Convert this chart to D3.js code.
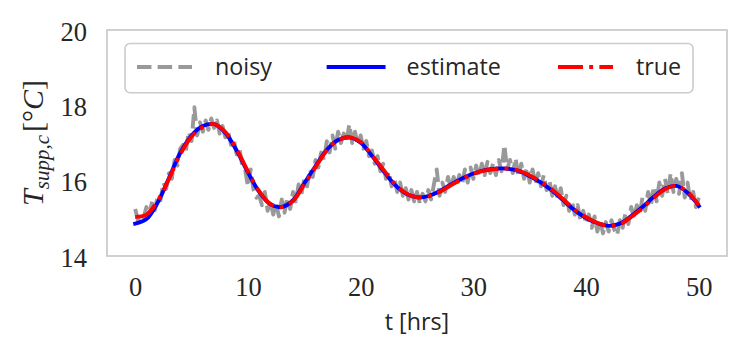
<!DOCTYPE html>
<html><head><meta charset="utf-8">
<script src="https://cdn.jsdelivr.net/npm/d3@7"></script>
<style>body{margin:0;background:#fff}</style></head>
<body>
<svg id="c" width="747" height="359"></svg>
<script>
// ---- data ----
const hours = d3.range(0, 51);            // 0..50 h
const trueVals = [15.04,15.10,15.47,16.05,16.70,17.17,17.42,17.50,17.29,16.83,16.25,
  15.72,15.38,15.30,15.46,15.90,16.36,16.80,17.07,17.15,17.03,
  16.68,16.30,15.92,15.67,15.56,15.58,15.70,15.88,16.04,16.18,
  16.27,16.31,16.32,16.27,16.14,15.97,15.76,15.50,15.23,15.03,
  14.88,14.80,14.84,15.04,15.27,15.54,15.77,15.86,15.70,15.35];
const estimateVals = [14.86,14.98,15.42,16.07,16.74,17.20,17.45,17.50,17.27,16.80,16.22,
  15.70,15.37,15.30,15.48,15.93,16.39,16.82,17.08,17.15,17.01,
  16.66,16.27,15.90,15.66,15.56,15.59,15.72,15.90,16.06,16.19,
  16.28,16.32,16.32,16.26,16.12,15.95,15.73,15.47,15.21,15.01,
  14.87,14.80,14.86,15.06,15.30,15.57,15.79,15.86,15.68,15.33];
const noisyTimes = d3.range(0, 50.001, 0.25);
const noisyVals = [
  15.25,14.95,15.10,15.02, 15.30,15.08,15.45,15.22, 15.60,15.48,15.95,15.78,
  16.20,16.05,16.55,16.40, 16.85,16.95,16.80,17.30, 17.05,17.95,17.20,17.55,
  17.30,17.60,17.35,17.65, 17.40,17.60,17.25,17.45, 17.15,17.30,16.95,17.10,
  16.70,16.85,16.40,16.30, 15.85,16.30,15.75,15.55, 15.60,15.35,15.70,15.20,
  15.45,15.10,15.40,15.05, 15.50,15.15,15.55,15.25, 15.70,15.45,15.90,15.65,
  16.05,15.85,16.30,16.10, 16.55,16.35,16.75,16.55, 17.05,16.75,17.20,16.85,
  17.30,17.00,17.25,17.05, 17.50,17.00,17.30,16.95, 17.20,16.85,17.05,16.65,
  16.80,16.45,16.65,16.25, 16.45,16.05,16.25,15.85, 16.05,15.70,15.95,15.60,
  15.80,15.50,15.75,15.45, 15.70,15.40,15.65,15.45, 15.75,15.50,15.90,16.30,
  15.60,15.95,15.70,16.10, 15.80,16.10,15.85,16.15, 15.90,16.30,15.95,16.35,
  16.05,16.40,16.10,16.45, 16.15,16.50,16.20,16.45, 16.15,16.55,16.25,16.95,
  16.30,16.55,16.20,16.60, 16.10,16.45,16.05,16.35, 15.95,16.30,15.90,16.20,
  15.85,16.15,15.75,16.00, 15.60,15.85,15.50,15.80, 15.35,15.60,15.20,15.45,
  15.10,15.35,14.95,15.20, 14.85,15.10,14.75,15.05, 14.65,14.95,14.60,14.90,
  14.65,14.95,14.70,14.55, 14.95,14.75,15.15,14.85, 15.30,15.00,15.35,15.10,
  15.55,15.20,15.70,15.35, 15.85,15.45,15.95,15.60, 16.05,15.65,16.20,15.70,
  16.05,15.65,16.20,15.55, 15.95,15.45,15.70,15.30, 15.55];
const xTicks = [0,10,20,30,40,50];
const yTicks = [14,16,18,20];
const legendLabels = ["noisy","estimate","true"];

// ---- layout ----
const L = 107, R = 727, T = 30, B = 256;
const LW = 3.9;
const svg = d3.select("#c");
const x = d3.scaleLinear().domain([-2.5, 52.5]).range([L, R]);
const y = d3.scaleLinear().domain([14, 20]).range([B, T]);
const textCol = "#262626";
const serif = "'Liberation Serif', 'Times New Roman', serif";
const sans = "'Open Sans', 'DejaVu Sans', sans-serif";

const styles = {
  noisy:    {color:"#999999", dash:`${3.7*LW},${1.6*LW}`, cap:"butt"},
  estimate: {color:"#0000ff", dash:null, cap:"square"},
  "true":   {color:"#ff0000", dash:`${6.4*LW},${1.6*LW},${1*LW},${1.6*LW}`, cap:"butt"}
};

// clip
svg.append("defs").append("clipPath").attr("id","clip")
  .append("rect").attr("x",L).attr("y",T).attr("width",R-L).attr("height",B-T);

// axes
const xAxis = svg.append("g").attr("transform",`translate(0,${B})`)
  .call(d3.axisBottom(x).tickValues(xTicks).tickSize(0).tickPadding(21).tickFormat(d3.format("d")));
xAxis.select(".domain").remove();
xAxis.selectAll("text").attr("font-family",serif).attr("font-size",26.5).attr("fill",textCol);

const yAxis = svg.append("g").attr("transform",`translate(${L},0)`)
  .call(d3.axisLeft(y).tickValues(yTicks).tickSize(0).tickPadding(20).tickFormat(d3.format("d")));
yAxis.select(".domain").remove();
yAxis.selectAll("text").attr("font-family",serif).attr("font-size",26.5).attr("fill",textCol).attr("dy","0.38em");

// lines
const g = svg.append("g").attr("clip-path","url(#clip)");
const lineGen = d3.line().x(d=>x(d[0])).y(d=>y(d[1]));
const smooth = d3.line().x(d=>x(d[0])).y(d=>y(d[1])).curve(d3.curveCatmullRom.alpha(0.5));

function draw(gen, data, st){
  g.append("path").datum(data).attr("d",gen).attr("fill","none")
    .attr("stroke",st.color).attr("stroke-width",LW)
    .attr("stroke-linejoin","round").attr("stroke-linecap",st.cap)
    .attr("stroke-dasharray",st.dash);
}
draw(lineGen, noisyTimes.map((t,i)=>[t,noisyVals[i]]), styles.noisy);
draw(smooth, hours.map((t,i)=>[t,estimateVals[i]]), styles.estimate);
draw(smooth, hours.map((t,i)=>[t,trueVals[i]]), styles["true"]);

// frame
svg.append("rect").attr("x",L).attr("y",T).attr("width",R-L).attr("height",B-T)
  .attr("fill","none").attr("stroke","#cccccc").attr("stroke-width",1.8);

// axis labels
svg.append("text").attr("x",(L+R)/2).attr("y",330).attr("text-anchor","middle")
  .attr("font-family",sans).attr("font-size",23.3).attr("fill",textCol).text("t [hrs]");

const yl = svg.append("text").attr("transform",`translate(43,${(T+B)/2}) rotate(-90)`)
  .attr("text-anchor","middle").attr("font-family",serif).attr("font-size",30).attr("fill",textCol);
yl.append("tspan").attr("font-style","italic").text("T");
yl.append("tspan").attr("font-style","italic").attr("font-size",21).attr("dy",6).text("supp,c");
yl.append("tspan").attr("dy",-6).attr("dx",3).text("[°");
yl.append("tspan").attr("font-style","italic").text("C");
yl.append("tspan").text("]");

// legend
const lg = svg.append("g");
lg.append("rect").attr("x",125).attr("y",43.5).attr("width",568).attr("height",49.2).attr("rx",5)
  .attr("fill","#fff").attr("fill-opacity",0.8).attr("stroke","#cccccc").attr("stroke-width",1.6);
const handleX = [137, 328.6, 558];
const handleLen = 55;
legendLabels.forEach((lab,i)=>{
  const st = styles[lab];
  lg.append("line").attr("x1",handleX[i]).attr("x2",handleX[i]+handleLen).attr("y1",67).attr("y2",67)
    .attr("stroke",st.color).attr("stroke-width",LW).attr("stroke-linecap",st.cap)
    .attr("stroke-dasharray",st.dash);
  lg.append("text").attr("x",handleX[i]+handleLen+23).attr("y",75)
    .attr("font-family",sans).attr("font-size",23.3).attr("fill",textCol).text(lab);
});
</script>
</body></html>
